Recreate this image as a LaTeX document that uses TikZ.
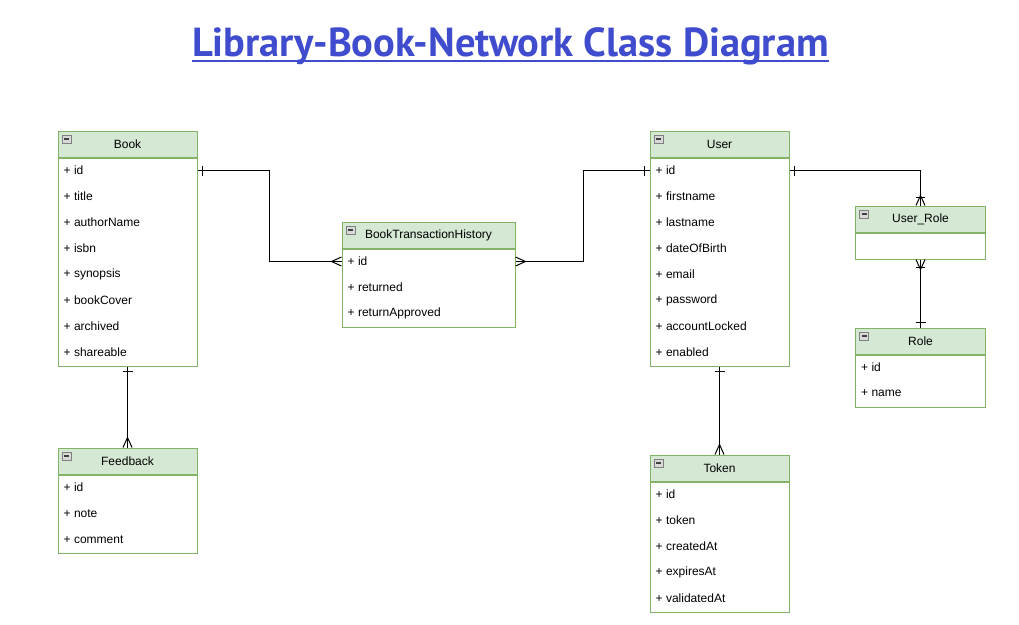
\documentclass[tikz,border=0pt]{standalone}
\usepackage{fontspec}
\setmainfont{Liberation Sans}
\newfontfamily\titlefont{PT Sans}
\usetikzlibrary{positioning}
\usetikzlibrary{calc}
\usetikzlibrary{decorations.markings}
\definecolor{HeadFill}{HTML}{D5E8D4}
\definecolor{HeadLine}{HTML}{82B366}
\definecolor{TitleBlue}{RGB}{64,76,206}
\tikzstyle{ClassHead}=[rectangle, draw=HeadLine, fill=HeadFill, line width=1pt, minimum height=26, inner sep=0pt,
  path picture={\draw[draw=gray, fill=gray!30, line width=0.6pt] ([shift={(4,-4)}]path picture bounding box.north west) rectangle ++(9,-8);
    \draw[black!75, line width=1.2pt] ([shift={(6,-8)}]path picture bounding box.north west) -- ++(5,0);}]
\tikzstyle{ClassBody}=[rectangle, draw=HeadLine, fill=white, line width=1pt, inner sep=0pt]
\tikzstyle{Field}=[anchor=west, inner sep=0pt]
\tikzstyle{Link}=[line width=1.1pt, black]
\tikzstyle{OneStart}=[postaction={decorate, decoration={markings, mark=at position 0 with {\draw[line width=1pt] (5,-5) -- (5,5);}}}]
\tikzstyle{OneEnd}=[postaction={decorate, decoration={markings, mark=at position 1 with {\draw[line width=1pt] (-5,-5) -- (-5,5);}}}]
\tikzstyle{ManyStart}=[postaction={decorate, decoration={markings, mark=at position 0 with {\draw[line width=1pt] (10,0) -- (0,4.5) (10,0) -- (0,-4.5);}}}]
\tikzstyle{ManyEnd}=[postaction={decorate, decoration={markings, mark=at position 1 with {\draw[line width=1pt] (-10,0) -- (0,4.5) (-10,0) -- (0,-4.5);}}}]
\tikzstyle{OneManyStart}=[ManyStart, postaction={decorate, decoration={markings, mark=at position 0 with {\draw[line width=1pt] (8,-4.5) -- (8,4.5);}}}]
\tikzstyle{OneManyEnd}=[ManyEnd, postaction={decorate, decoration={markings, mark=at position 1 with {\draw[line width=1pt] (-8,-4.5) -- (-8,4.5);}}}]

\begin{document}
\begin{tikzpicture}[x=1pt, y=1pt, font=\fontsize{12}{14}\selectfont]
\useasboundingbox[fill=white] (0,0) rectangle (1019,-624);

% title
\node[anchor=base, inner sep=0pt, text=TitleBlue, font=\titlefont\bfseries\fontsize{40.5}{44}\selectfont] (title) at (510.5,-56) {Library-Book-Network Class Diagram};
\draw[TitleBlue, line width=2pt] ([yshift=-5]title.base west) -- ([yshift=-5]title.base east);

% classes
\node[ClassHead, minimum width=139] (Book) at (127.5,-144) {Book};
\node[ClassBody, minimum width=139, minimum height=208, below=0pt of Book] (BookBody) {};
\foreach \f [count=\i] in {id,title,authorName,isbn,synopsis,bookCover,archived,shareable}
  \node[Field] (Book-\f) at ([xshift=6, yshift={13-26*\i}]BookBody.north west) {+ \f};

\node[ClassHead, minimum width=139] (Feedback) at (127.5,-461) {Feedback};
\node[ClassBody, minimum width=139, minimum height=78, below=0pt of Feedback] (FeedbackBody) {};
\foreach \f [count=\i] in {id,note,comment}
  \node[Field] (Feedback-\f) at ([xshift=6, yshift={13-26*\i}]FeedbackBody.north west) {+ \f};

\node[ClassHead, minimum width=173] (BTH) at (428.5,-235) {BookTransactionHistory};
\node[ClassBody, minimum width=173, minimum height=78, below=0pt of BTH] (BTHBody) {};
\foreach \f [count=\i] in {id,returned,returnApproved}
  \node[Field] (BTH-\f) at ([xshift=6, yshift={13-26*\i}]BTHBody.north west) {+ \f};

\node[ClassHead, minimum width=139] (User) at (719.5,-144) {User};
\node[ClassBody, minimum width=139, minimum height=208, below=0pt of User] (UserBody) {};
\foreach \f [count=\i] in {id,firstname,lastname,dateOfBirth,email,password,accountLocked,enabled}
  \node[Field] (User-\f) at ([xshift=6, yshift={13-26*\i}]UserBody.north west) {+ \f};

\node[ClassHead, minimum width=139] (Token) at (719.5,-468) {Token};
\node[ClassBody, minimum width=139, minimum height=130, below=0pt of Token] (TokenBody) {};
\foreach \f [count=\i] in {id,token,createdAt,expiresAt,validatedAt}
  \node[Field] (Token-\f) at ([xshift=6, yshift={13-26*\i}]TokenBody.north west) {+ \f};

\node[ClassHead, minimum width=130] (URole) at (920.5,-219) {User\_Role};
\node[ClassBody, minimum width=130, minimum height=26, below=0pt of URole] (URoleBody) {};

\node[ClassHead, minimum width=130] (Role) at (920.5,-341) {Role};
\node[ClassBody, minimum width=130, minimum height=52, below=0pt of Role] (RoleBody) {};
\foreach \f [count=\i] in {id,name}
  \node[Field] (Role-\f) at ([xshift=6, yshift={13-26*\i}]RoleBody.north west) {+ \f};

% relations
\draw[Link, OneStart, ManyEnd] (BookBody.east |- Book-id) -- ++(72,0) |- (BTHBody.west |- BTH-id);
\draw[Link, ManyStart, OneEnd] (BTHBody.east |- BTH-id) -- ++(68,0) |- (UserBody.west |- User-id);
\draw[Link, OneStart, OneManyEnd] (UserBody.east |- User-id) -| (URole.north);
\draw[Link, OneManyStart, OneEnd] (URoleBody.south) -- (Role.north);
\draw[Link, OneStart, ManyEnd] (BookBody.south) -- (Feedback.north);
\draw[Link, OneStart, ManyEnd] (UserBody.south) -- (Token.north);
\end{tikzpicture}
\end{document}
